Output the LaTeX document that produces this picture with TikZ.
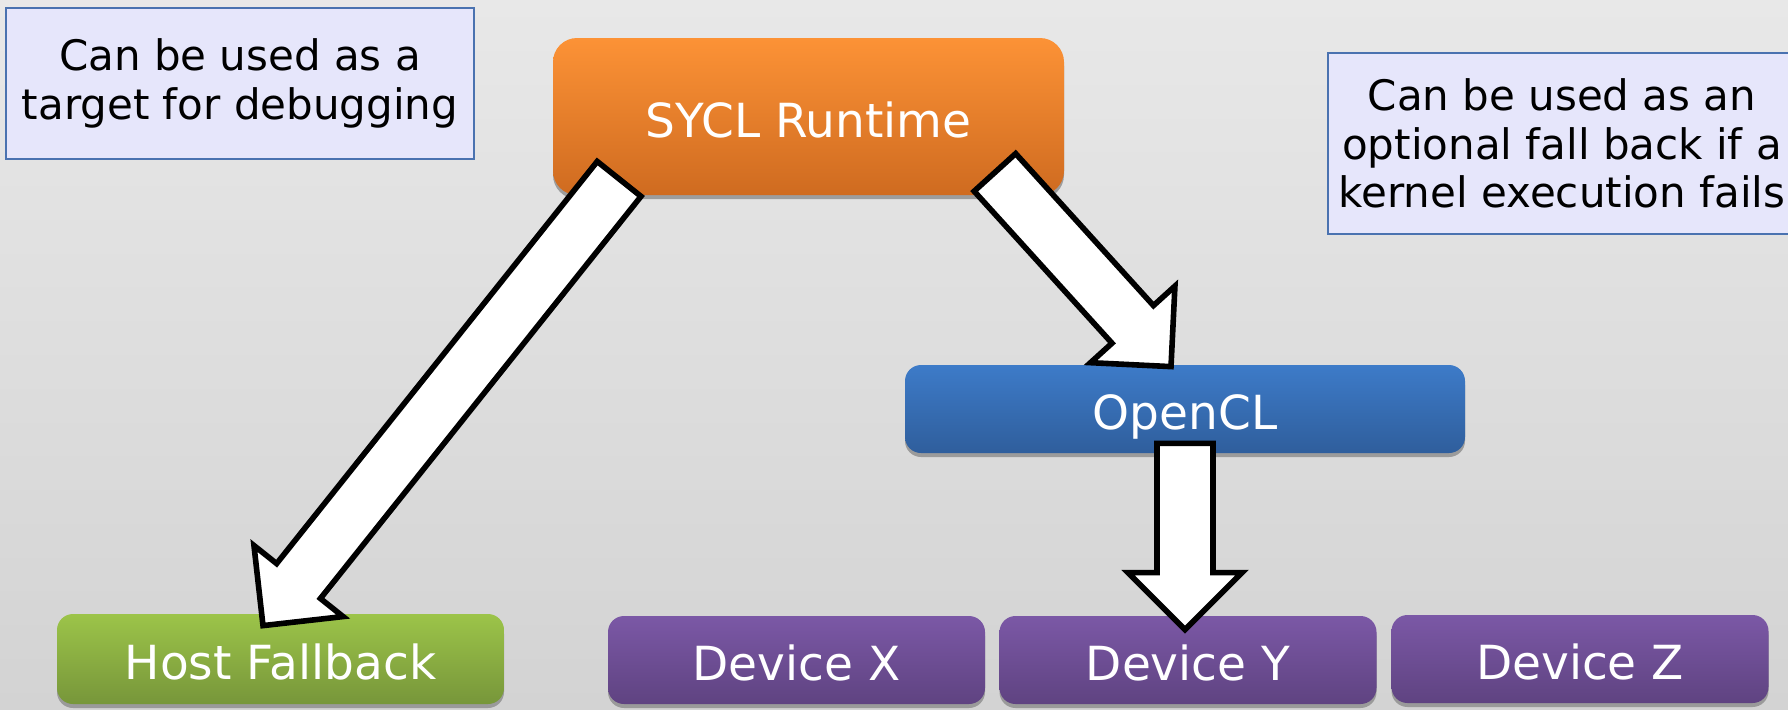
\documentclass[tikz,border=0pt]{standalone}
\usepackage{fontspec}
\setmainfont{DejaVu Sans}
\usetikzlibrary{calc,shadows}

\definecolor{bgtop}{HTML}{E8E8E8}
\definecolor{bgbot}{HTML}{D3D3D3}
\definecolor{notefill}{HTML}{E6E6FB}
\definecolor{noteline}{HTML}{4A72B0}
\definecolor{orangetop}{HTML}{FC9236}
\definecolor{orangebot}{HTML}{CF6B20}
\definecolor{bluetop}{HTML}{3D7BC8}
\definecolor{bluebot}{HTML}{2F5E9C}
\definecolor{greentop}{HTML}{9CC449}
\definecolor{greenbot}{HTML}{77963A}
\definecolor{purpletop}{HTML}{7B58A6}
\definecolor{purplebot}{HTML}{5F4381}

\begin{document}
\begin{tikzpicture}[x=0.5pt, y=-0.5pt,
  note/.style={draw=noteline, line width=0.6pt, fill=notefill, align=center,
    minimum width=234pt, inner sep=0pt, font=\fontsize{21}{24.3}\selectfont},
  box/.style={rounded corners=10pt, text=white, inner sep=0pt,
    text height=20.5pt, text depth=0pt,
    font=\fontsize{23.5}{28}\selectfont,
    drop shadow={shadow xshift=0pt, shadow yshift=-2pt, fill=black!45, opacity=0.8}},
  device/.style={box, top color=purpletop, bottom color=purplebot,
    minimum width=188.5pt, minimum height=44pt},
  fatarrow/.style={draw=black, line width=2.8pt, fill=white,
    to path={($(\tikztostart)!14pt!90:(\tikztotarget)$)
      -- ($(\tikztotarget)!28.5pt!(\tikztostart)!14pt!-90:(\tikztostart)$)
      -- ($(\tikztotarget)!28.5pt!(\tikztostart)!28.5pt!-90:(\tikztostart)$)
      -- (\tikztotarget)
      -- ($(\tikztotarget)!28.5pt!(\tikztostart)!28.5pt!90:(\tikztostart)$)
      -- ($(\tikztotarget)!28.5pt!(\tikztostart)!14pt!90:(\tikztostart)$)
      -- ($(\tikztostart)!14pt!-90:(\tikztotarget)$) -- cycle}}]

  \useasboundingbox (0,0) rectangle (1788,709);
  \fill[top color=bgtop, bottom color=bgbot] (0,0) rectangle (1788,709);

  % notes
  \node[note, minimum height=75.5pt] (debug) at (240,83.5)
    {Can be used as a\\target for debugging};
  \node[note, minimum height=90.5pt] (fallback) at (1562,143.5)
    {Can be used as an\\optional fall back if a\\kernel execution fails};

  % boxes
  \node[box, rounded corners=12pt, top color=orangetop, bottom color=orangebot,
    minimum width=255.5pt, minimum height=78.5pt] (sycl) at (808.5,116.5) {SYCL Runtime};
  \node[box, rounded corners=8pt, top color=bluetop, bottom color=bluebot,
    minimum width=280pt, minimum height=44pt] (ocl) at (1185,409) {OpenCL};
  \node[box, rounded corners=8pt, top color=greentop, bottom color=greenbot,
    minimum width=223.5pt, minimum height=45pt] (host) at (280.5,659) {Host Fallback};
  \node[device, rounded corners=8pt] (devx) at (796.5,660) {Device X};
  \node[device, rounded corners=8pt] (devy) at (1188,660) {Device Y};
  \node[device, rounded corners=8pt] (devz) at (1580,659) {Device Z};

  % arrows
  \coordinate (l0) at ($(sycl.south west)+(66.5,-16.5)$);
  \coordinate (l1) at ($(host.north)+(-17.5,12)$);
  \coordinate (r0) at ($(sycl.south east)+(-69.5,-23)$);
  \coordinate (r1) at ($(ocl.north)+(-14,2)$);
  \coordinate (d0) at ($(ocl.south)+(0,-10)$);
  \coordinate (d1) at ($(devy.north)+(-3,14)$);
  \draw[fatarrow] (l0) to (l1);
  \draw[fatarrow] (r0) to (r1);
  \draw[fatarrow] (d0) to (d1);
\end{tikzpicture}
\end{document}
